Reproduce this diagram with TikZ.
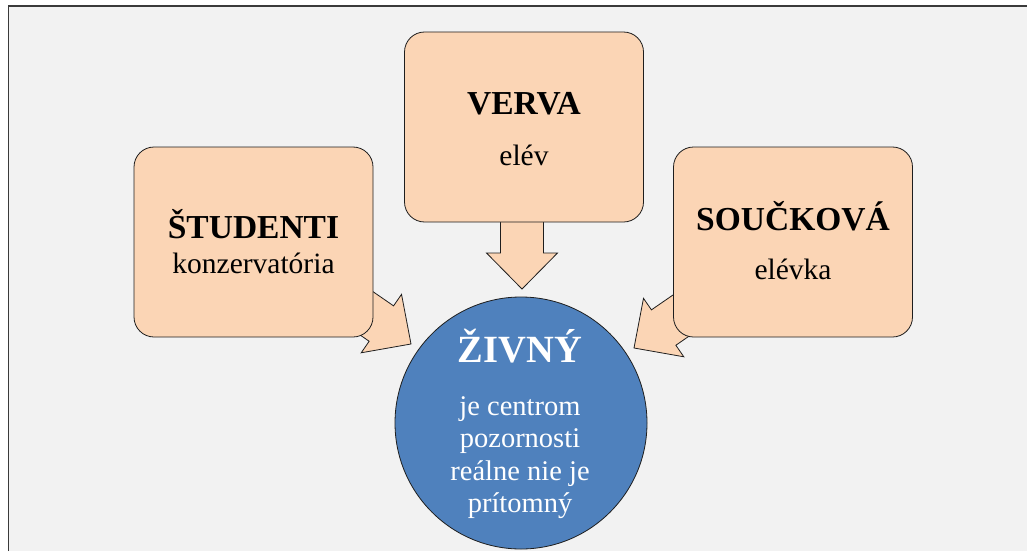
\documentclass[tikz,border=0pt]{standalone}
\usepackage{fontspec}
\setmainfont{Liberation Serif}
\definecolor{panel}{HTML}{F2F2F2}
\definecolor{framegray}{HTML}{3A3A3A}
\definecolor{peach}{HTML}{FBD5B5}
\definecolor{discblue}{HTML}{4F81BD}
\definecolor{edgedark}{HTML}{1E1E1E}
\begin{document}
\begin{tikzpicture}[x=1pt,y=-1pt,
  peachbox/.style={draw=edgedark,line width=0.8pt,fill=peach,rounded corners=20pt,
    minimum width=239pt,minimum height=190pt,inner sep=0pt},
  disc/.style={circle,draw=edgedark,line width=0.8pt,fill=discblue,
    minimum size=252pt,inner sep=0pt},
  titletext/.style={anchor=base,font=\fontsize{33.5}{40}\selectfont\bfseries},
  bodytext/.style={anchor=base,font=\fontsize{29.5}{35}\selectfont},
  disctitle/.style={anchor=base,text=white,font=\fontsize{38.5}{46}\selectfont\bfseries},
  discbody/.style={anchor=base,text=white,font=\fontsize{28.5}{34}\selectfont},
  blockarrow/.pic={
    \draw[draw=edgedark,line width=0.8pt,fill=peach,line join=miter]
      (0,0) -- (-36,35.5) -- (-36,21.5) -- (-80,21.5) -- (-80,-21.5)
      -- (-36,-21.5) -- (-36,-35.5) -- cycle;
  }]
  % page and panel
  \useasboundingbox (0,0) rectangle (1027,551);
  \fill[white] (0,0) rectangle (1027,551);
  \fill[panel] (8.5,6) rectangle (1027,551);
  \draw[framegray,line width=1.2pt] (8.5,551) -- (8.5,6) -- (1027,6);

  % block arrows pointing at the centre disc (drawn below the boxes)
  \coordinate (tipleft) at (411,344);
  \coordinate (tipmid) at (522,289);
  \coordinate (tipright) at (634,348);
  \pic[rotate=-34.6] at (tipleft) {blockarrow};
  \pic[rotate=-90] at (tipmid) {blockarrow};
  \pic[rotate=-145.4] at (tipright) {blockarrow};

  % the three source boxes
  \node[peachbox] (studenti) at (253.5,242) {};
  \node[peachbox] (verva) at (524,127) {};
  \node[peachbox] (souckova) at (793,242) {};

  \node[titletext] (studentiT) at (253.5,238) {ŠTUDENTI};
  \node[bodytext] (studentiB) at (253.5,273) {konzervatória};
  \node[titletext] (vervaT) at (524,114) {VERVA};
  \node[bodytext] (vervaB) at (524,165) {elév};
  \node[titletext] (souckovaT) at (793,230) {SOUČKOVÁ};
  \node[bodytext] (souckovaB) at (793,279) {elévka};

  % central disc
  \node[disc] (zivny) at (521,423) {};
  \node[disctitle] (zivnyT) at (520,362) {ŽIVNÝ};
  \node[discbody] (l1) at (520,415) {je centrom};
  \node[discbody] (l2) at (520,447) {pozornosti};
  \node[discbody] (l3) at (520,480) {reálne nie je};
  \node[discbody] (l4) at (520,512) {prítomný};
\end{tikzpicture}
\end{document}
